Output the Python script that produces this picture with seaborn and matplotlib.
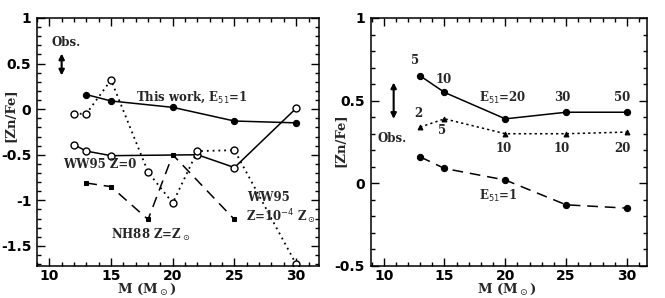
import matplotlib
matplotlib.use("Agg")
import matplotlib.pyplot as plt
import seaborn as sns

# Left panel data
mass_this = [13, 15, 20, 25, 30]
zn_this_e1 = [0.16, 0.09, 0.02, -0.13, -0.15]

mass_ww95_z0 = [12, 13, 15, 22, 25, 30]
zn_ww95_z0 = [-0.39, -0.46, -0.51, -0.50, -0.64, 0.01]

mass_ww95_z4 = [12, 13, 15, 18, 20, 22, 25, 30]
zn_ww95_z4 = [-0.05, -0.05, 0.32, -0.69, -1.03, -0.46, -0.45, -1.70]

mass_nh88 = [13, 15, 18, 20, 25]
zn_nh88 = [-0.81, -0.85, -1.21, -0.50, -1.21]

# Right panel data (hypernova energies)
mass_hn = [13, 15, 20, 25, 30]
zn_hn_high = [0.65, 0.55, 0.39, 0.43, 0.43]
e51_high = ["5", "10", "", "30", "50"]
zn_hn_low = [0.34, 0.39, 0.30, 0.30, 0.31]
e51_low = ["2", "5", "10", "10", "20"]

left_yticks = [1, 0.5, 0, -0.5, -1, -1.5]
left_ylabels = ["1", "0.5", "0", "-0.5", "-1", "-1.5"]
right_yticks = [1, 0.5, 0, -0.5]
right_ylabels = ["1", "0.5", "0", "-0.5"]
xticks = [10, 15, 20, 25, 30]

sns.set_style("ticks")
plt.rcParams["font.family"] = ["DejaVu Sans"]

fig = plt.figure(figsize=(6.65, 2.98), dpi=100)
ax1 = fig.add_axes([0.0556, 0.1074, 0.4241, 0.8322])
ax2 = fig.add_axes([0.5574, 0.1074, 0.4155, 0.8322])

serif = dict(family="DejaVu Serif", fontweight="bold", fontsize=8.5)
axlab = dict(family="DejaVu Serif", fontweight="bold", fontsize=9.5)
lw = 1.1

# --- left panel ---
sns.lineplot(x=mass_this, y=zn_this_e1, ax=ax1, color="k", lw=lw,
             marker="o", markersize=4.5, mec="k", mfc="k")
sns.lineplot(x=mass_ww95_z0, y=zn_ww95_z0, ax=ax1, color="k", lw=lw,
             marker="o", markersize=5, mec="k", mfc="white", mew=1)
sns.lineplot(x=mass_ww95_z4, y=zn_ww95_z4, ax=ax1, color="k", lw=1.3,
             linestyle=(0, (1, 2.2)), marker="o", markersize=5,
             mec="k", mfc="white", mew=1)
sns.lineplot(x=mass_nh88, y=zn_nh88, ax=ax1, color="k", lw=lw,
             linestyle=(0, (7, 4.5)), marker="s", markersize=3,
             mec="k", mfc="k")

ax1.text(10.14, 0.735, "Obs.", va="center", ha="left", **serif)
ax1.annotate("", xy=(11.0, 0.37), xytext=(11.0, 0.61),
             arrowprops=dict(arrowstyle="<|-|>", color="k", lw=1.5,
                             mutation_scale=8, shrinkA=0, shrinkB=0))
ax1.text(17.0, 0.13, "This work, E$_{51}$=1", va="center", ha="left", **serif)
ax1.text(11.1, -0.61, "WW95 Z=0", va="center", ha="left", **serif)
ax1.text(15.0, -1.38, "NH88 Z=Z$_\\odot$", va="center", ha="left", **serif)
ax1.text(26.05, -0.965, "WW95", va="center", ha="left", **serif)
ax1.text(25.95, -1.18, "Z=10$^{-4}$ Z$_\\odot$", va="center", ha="left", **serif)

ax1.set_xlim(9.1, 31.85)
ax1.set_ylim(-1.72, 1.0)
ax1.set_yticks(left_yticks, left_ylabels)

# --- right panel ---
sns.lineplot(x=mass_hn, y=zn_hn_high, ax=ax2, color="k", lw=lw,
             marker="o", markersize=4.5, mec="k", mfc="k")
sns.lineplot(x=mass_hn, y=zn_hn_low, ax=ax2, color="k", lw=1.1,
             linestyle=(0, (1.5, 2)), marker="^", markersize=3.5,
             mec="k", mfc="k")
sns.lineplot(x=mass_this, y=zn_this_e1, ax=ax2, color="k", lw=lw,
             linestyle=(0, (7, 4.5)), marker="o", markersize=4.5,
             mec="k", mfc="k")

high_pos = [(12.57, 0.74), (14.96, 0.63), None, (24.66, 0.52), (29.6, 0.52)]
for lab, pos in zip(e51_high, high_pos):
    if lab:
        ax2.text(pos[0], pos[1], lab, ha="center", va="center", **serif)
low_pos = [(12.82, 0.42), (14.8, 0.32), (19.9, 0.21), (24.66, 0.21), (29.6, 0.21)]
for lab, pos in zip(e51_low, low_pos):
    ax2.text(pos[0], pos[1], lab, ha="center", va="center", **serif)

ax2.text(17.84, 0.515, "E$_{51}$=20", va="center", ha="left", **serif)
ax2.text(17.84, -0.077, "E$_{51}$=1", va="center", ha="left", **serif)
ax2.text(9.53, 0.27, "Obs.", va="center", ha="left", **serif)
ax2.annotate("", xy=(10.82, 0.39), xytext=(10.82, 0.61),
             arrowprops=dict(arrowstyle="<|-|>", color="k", lw=1.5,
                             mutation_scale=8, shrinkA=0, shrinkB=0))

ax2.set_xlim(8.93, 31.65)
ax2.set_ylim(-0.5, 1.0)
ax2.set_yticks(right_yticks, right_ylabels)

for ax in (ax1, ax2):
    ax.set_xticks(xticks)
    ax.set_xticks(range(9, 32), minor=True)
    ax.yaxis.set_minor_locator(matplotlib.ticker.MultipleLocator(0.1))
    ax.tick_params(which="both", direction="in", top=True, right=True,
                   width=1, colors="k")
    ax.tick_params(which="major", length=6, pad=4)
    ax.tick_params(axis="x", which="major", pad=2)
    ax.tick_params(which="minor", length=3)
    for lab in ax.get_xticklabels() + ax.get_yticklabels():
        lab.set_fontweight("bold")
        lab.set_fontsize(10)
    for sp in ax.spines.values():
        sp.set_linewidth(1.1)
        sp.set_color("k")
    ax.set_xlabel("M (M$_\\odot$)", **axlab)
    ax.set_ylabel("[Zn/Fe]", **axlab)

ax1.yaxis.set_label_coords(-0.071, 0.61)
ax1.xaxis.set_label_coords(0.39, -0.062)
ax2.yaxis.set_label_coords(-0.086, 0.508)
ax2.xaxis.set_label_coords(0.493, -0.062)

fig.savefig("out.png", dpi=100)
